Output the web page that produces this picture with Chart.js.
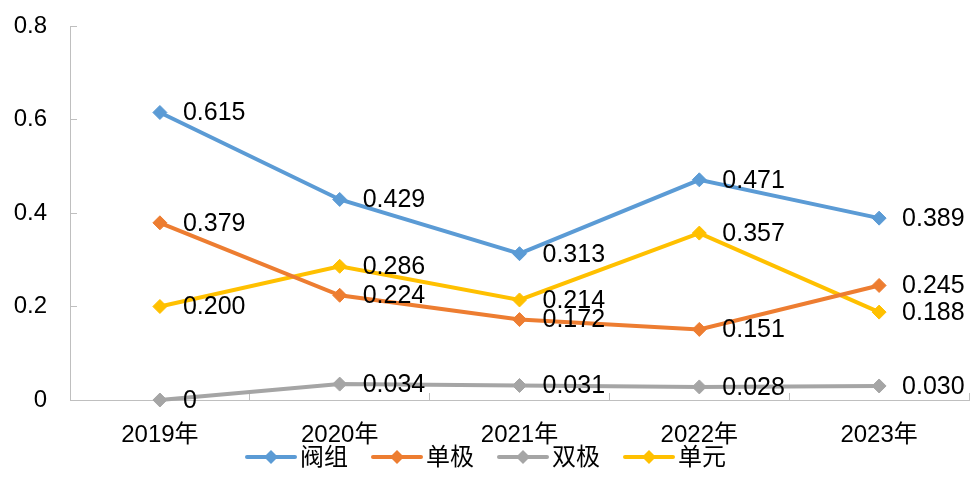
<!DOCTYPE html>
<html>
<head>
<meta charset="utf-8">
<script src="https://cdn.jsdelivr.net/npm/chart.js@4"></script>
<style>
  body { margin: 0; background: #fff; }
</style>
</head>
<body>
<canvas id="myChart" width="971" height="495"></canvas>
<script>
const years = ["2019年", "2020年", "2021年", "2022年", "2023年"];
const seriesNames = ["阀组", "单极", "双极", "单元"];
const valveGroup = [0.615, 0.429, 0.313, 0.471, 0.389];
const monopole = [0.379, 0.224, 0.172, 0.151, 0.245];
const bipole = [0, 0.034, 0.031, 0.028, 0.03];
const unit = [0.2, 0.286, 0.214, 0.357, 0.188];
const yTicks = [0, 0.2, 0.4, 0.6, 0.8];

const colors = ["#5B9BD5", "#ED7D31", "#A5A5A5", "#FFC000"];
const axisColor = "#bfbfbf";
const fontFamily = '"Liberation Sans", Arial, "Noto Sans CJK SC", sans-serif';

function fmtValue(v) {
  return v === 0 ? "0" : v.toFixed(3);
}

// let the x axis run almost to the canvas edge
const stretchX = {
  id: "stretchX",
  afterLayout(chart) {
    const x = chart.scales.x;
    const right = chart.width - 2;
    x.right = right;
    x.width = right - x.left;
    chart.chartArea.right = right;
    chart.chartArea.width = right - chart.chartArea.left;
    x.configure();
  },
};

// value text to the right of each marker
const valueLabels = {
  id: "valueLabels",
  afterDatasetsDraw(chart) {
    const ctx = chart.ctx;
    ctx.save();
    ctx.font = "25px " + fontFamily;
    ctx.fillStyle = "#000";
    ctx.textAlign = "left";
    ctx.textBaseline = "middle";
    chart.data.datasets.forEach(function (ds, i) {
      chart.getDatasetMeta(i).data.forEach(function (pt, j) {
        ctx.fillText(fmtValue(ds.data[j]), pt.x + 23, pt.y + 1);
      });
    });
    ctx.restore();
  },
};

// legend row: line with a diamond, then the name
const lineLegend = {
  id: "lineLegend",
  afterDraw(chart) {
    const ctx = chart.ctx;
    const y = 457;
    const lineLen = 52;
    const gap = 3;
    const itemGap = 23;
    ctx.save();
    ctx.font = "24px " + fontFamily;
    ctx.textBaseline = "middle";
    const items = chart.data.datasets.map(function (ds) {
      return { ds: ds, w: ctx.measureText(ds.label).width };
    });
    let total = 0;
    items.forEach(function (it, i) {
      total += lineLen + gap + it.w + (i > 0 ? itemGap : 0);
    });
    let x = (chart.width - total) / 2;
    items.forEach(function (it) {
      const c = it.ds.borderColor;
      ctx.strokeStyle = c;
      ctx.lineWidth = 4;
      ctx.lineCap = "round";
      ctx.beginPath();
      ctx.moveTo(x + 2, y);
      ctx.lineTo(x + lineLen - 2, y);
      ctx.stroke();
      ctx.fillStyle = c;
      ctx.beginPath();
      ctx.moveTo(x + lineLen / 2, y - 7);
      ctx.lineTo(x + lineLen / 2 + 7, y);
      ctx.lineTo(x + lineLen / 2, y + 7);
      ctx.lineTo(x + lineLen / 2 - 7, y);
      ctx.closePath();
      ctx.fill();
      ctx.fillStyle = "#000";
      ctx.textAlign = "left";
      ctx.fillText(it.ds.label, x + lineLen + gap, y + 1);
      x += lineLen + gap + it.w + itemGap;
    });
    ctx.restore();
  },
};

function makeSet(name, values, color) {
  return {
    label: name,
    data: values,
    borderColor: color,
    backgroundColor: color,
    borderWidth: 4,
    pointStyle: "rectRot",
    pointRadius: 7,
    pointHoverRadius: 7,
    pointBorderWidth: 1,
    tension: 0,
    clip: false,
  };
}

function createChart() {
  const ctx = document.getElementById("myChart").getContext("2d");
  new Chart(ctx, {
    type: "line",
    data: {
      labels: years,
      datasets: [
        makeSet(seriesNames[0], valveGroup, colors[0]),
        makeSet(seriesNames[1], monopole, colors[1]),
        makeSet(seriesNames[2], bipole, colors[2]),
        makeSet(seriesNames[3], unit, colors[3]),
      ],
    },
    options: {
      responsive: false,
      animation: false,
      devicePixelRatio: 1,
      layout: {
        padding: { top: 26, left: 0, right: 2, bottom: 0 },
      },
      plugins: {
        legend: { display: false },
        tooltip: { enabled: false },
      },
      scales: {
        x: {
          offset: true,
          grid: {
            offset: true,
            drawOnChartArea: false,
            drawTicks: true,
            tickLength: -7,
            color: axisColor,
          },
          border: { color: axisColor, width: 1 },
          ticks: {
            padding: 28,
            color: "#000",
            font: { family: fontFamily, size: 24 },
            maxRotation: 0,
          },
          afterFit: function (scale) {
            scale.height = 95;
            scale.paddingLeft = 0;
            scale.paddingRight = 0;
          },
        },
        y: {
          min: 0,
          max: 0.8,
          afterBuildTicks: function (scale) {
            scale.ticks = yTicks.map(function (v) {
              return { value: v };
            });
          },
          grid: {
            drawOnChartArea: false,
            drawTicks: true,
            tickLength: -7,
            color: axisColor,
          },
          border: { color: axisColor, width: 1 },
          ticks: {
            padding: 30,
            color: "#000",
            font: { family: fontFamily, size: 24 },
            callback: function (v) {
              return v === 0 ? "0" : String(Math.round(v * 10) / 10);
            },
          },
          afterFit: function (scale) {
            scale.width = 70;
            scale.paddingTop = 0;
            scale.paddingBottom = 0;
          },
        },
      },
    },
    plugins: [stretchX, valueLabels, lineLegend],
  });
}

createChart();
</script>
</body>
</html>
